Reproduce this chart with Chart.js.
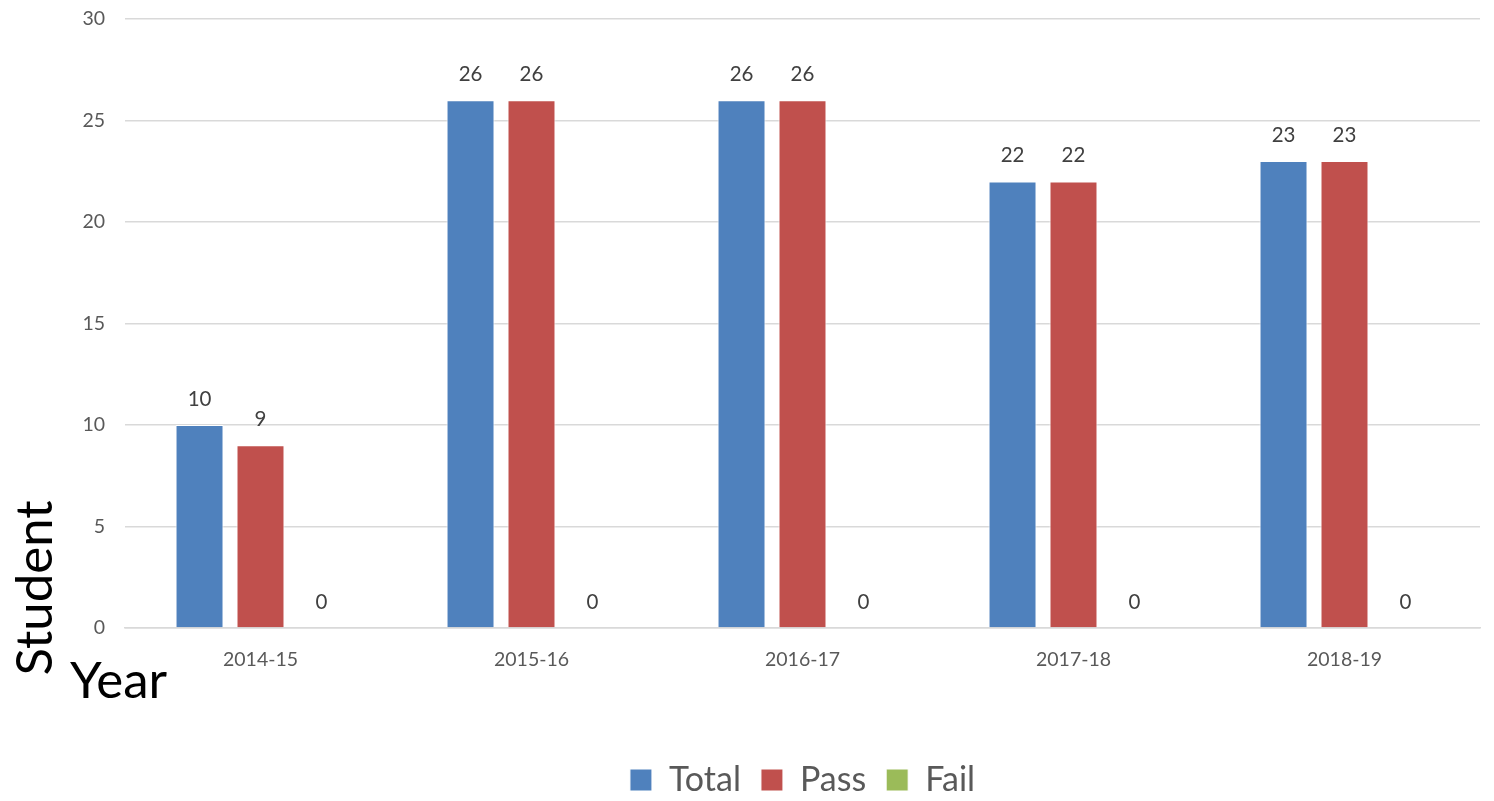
<!DOCTYPE html>
<html>
<head>
<meta charset="utf-8">
<script src="https://cdn.jsdelivr.net/npm/chart.js@4/dist/chart.umd.min.js"></script>
<style>
  html, body { margin: 0; padding: 0; background: #fff; }
  #wrap { width: 1494px; height: 801px; position: relative; }
</style>
</head>
<body>
<div id="wrap"><canvas id="students" width="1494" height="801"></canvas></div>
<script>
var years = ['2014-15', '2015-16', '2016-17', '2017-18', '2018-19'];
var total = [10, 26, 26, 22, 23];
var pass = [9, 26, 26, 22, 23];
var fail = [0, 0, 0, 0, 0];
var yTicks = [0, 5, 10, 15, 20, 25, 30];

var fontName = 'Lato, "Open Sans", sans-serif';

// value labels above each bar
var barValues = {
  id: 'barValues',
  afterDatasetsDraw: function(chart) {
    var ctx = chart.ctx;
    ctx.save();
    ctx.font = '20.5px ' + fontName;
    ctx.fillStyle = '#404040';
    ctx.textAlign = 'center';
    ctx.textBaseline = 'middle';
    chart.data.datasets.forEach(function(ds, i) {
      chart.getDatasetMeta(i).data.forEach(function(bar, j) {
        ctx.fillText(ds.data[j], bar.x, bar.y - 26);
      });
    });
    ctx.restore();
  }
};

// the "Student" / "Year" axis captions
var axisCaptions = {
  id: 'axisCaptions',
  afterDraw: function(chart) {
    var ctx = chart.ctx;
    ctx.save();
    ctx.font = '51px ' + fontName;
    ctx.fillStyle = '#000';
    ctx.textBaseline = 'middle';
    ctx.translate(36, 588);
    ctx.rotate(-Math.PI / 2);
    ctx.textAlign = 'center';
    ctx.fillText('Student', 0, 0);
    ctx.restore();
    ctx.save();
    ctx.font = '51px ' + fontName;
    ctx.fillStyle = '#000';
    ctx.textBaseline = 'middle';
    ctx.textAlign = 'left';
    ctx.fillText('Year', 70, 682);
    ctx.restore();
  }
};

new Chart(document.getElementById('students'), {
  type: 'bar',
  data: {
    labels: years,
    datasets: [{
      label: 'Total',
      data: total,
      backgroundColor: '#4F81BD',
      borderColor: '#ffffff',
      borderWidth: 1
    }, {
      label: 'Pass',
      data: pass,
      backgroundColor: '#C0504D',
      borderColor: '#ffffff',
      borderWidth: 1
    }, {
      label: 'Fail',
      data: fail,
      backgroundColor: '#9BBB59',
      borderColor: '#ffffff',
      borderWidth: 1
    }]
  },
  options: {
    responsive: false,
    animation: false,
    categoryPercentage: 0.675,
    barPercentage: 0.787,
    layout: { padding: { top: 19, right: 14, left: 0, bottom: -6 } },
    plugins: {
      tooltip: { enabled: false },
      legend: {
        position: 'bottom',
        fullSize: false,
        labels: {
          font: { family: fontName, size: 34 },
          color: '#595959',
          boxWidth: 22,
          boxHeight: 22,
          padding: 20
        }
      }
    },
    scales: {
      x: {
        grid: { display: false, drawTicks: false },
        border: { display: true, color: '#d9d9d9', width: 1.5 },
        ticks: { font: { family: fontName, size: 19.5 }, color: '#595959', padding: 20 },
        afterFit: function(s) { s.height = 115; }
      },
      y: {
        min: 0,
        max: 30,
        afterBuildTicks: function(s) { s.ticks = yTicks.map(function(v) { return { value: v }; }); },
        grid: { color: '#d9d9d9', lineWidth: 1.5, drawTicks: true, tickLength: 20, tickColor: 'rgba(0,0,0,0)' },
        border: { display: false },
        ticks: { font: { family: fontName, size: 19.5 }, color: '#595959', padding: 0 },
        afterFit: function(s) { s.width = 125; }
      }
    }
  },
  plugins: [barValues, axisCaptions]
});
</script>
</body>
</html>
